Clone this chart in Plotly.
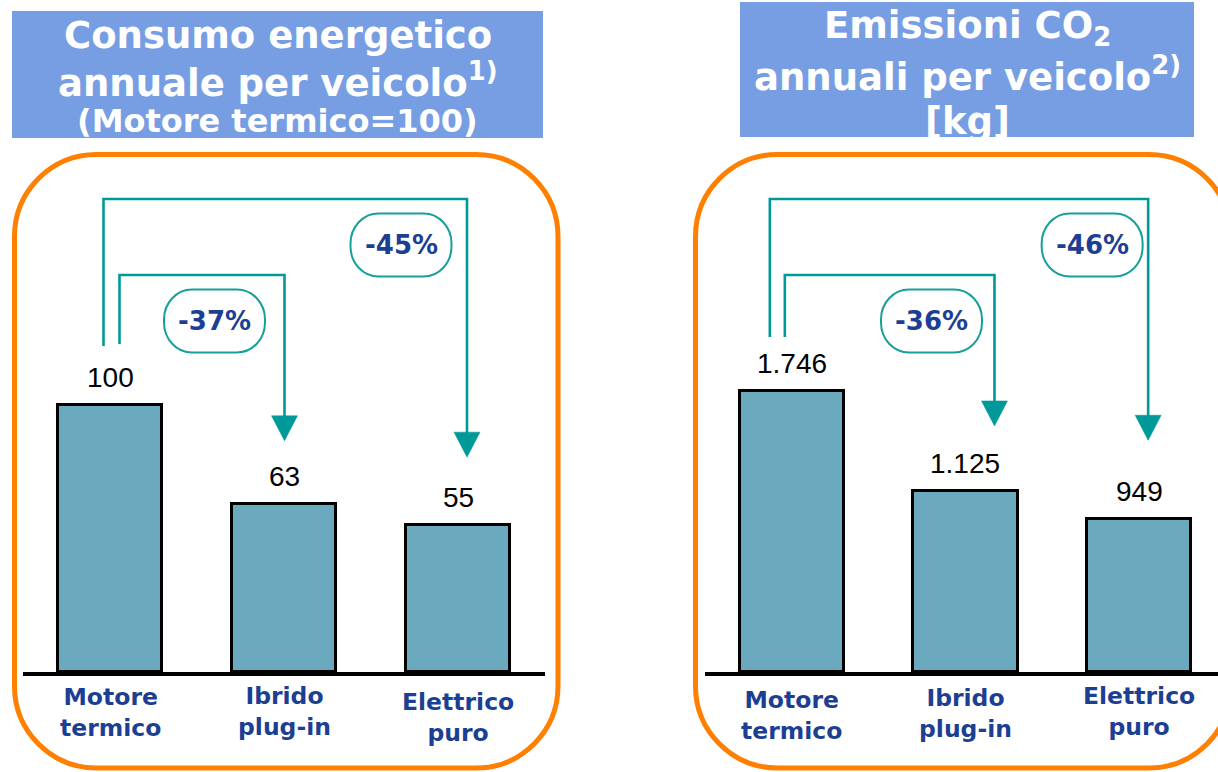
import plotly.graph_objects as go

W, H = 1218, 772

# ---------------- data ----------------
categories = ["Motore<br>termico", "Ibrido<br>plug-in", "Elettrico<br>puro"]
energy_values = [100, 63, 55]          # index, motore termico = 100
co2_values = [1746, 1125, 949]         # kg CO2 per year
energy_changes = ["-37%", "-45%"]      # vs motore termico (ibrido, elettrico)
co2_changes = ["-36%", "-46%"]

energy_title = ["Consumo energetico", "annuale per veicolo<sup>1)</sup>", "(Motore termico=100)"]
co2_title = ["Emissioni CO<sub>2</sub>", "annuali per veicolo<sup>2)</sup>", "[kg]"]

# ---------------- style ----------------
BAR = "#6aa9be"
TEAL = "#009999"
TITLE_BG = "#779ee3"
ORANGE = "#ff7f00"
NAVY = "#1c3f94"
BOLD_FONT = "DejaVu Sans, Verdana, sans-serif"
NUM_FONT = "Liberation Sans, Arial, sans-serif"

BASE_PX, TOP_PX = 672, 150

panels = [
    dict(values=energy_values, changes=energy_changes, title=energy_title,
         xdom=(23, 545), xr=(-0.5, 2.5), bar0_px=267, ax="x", ay="y",
         title_box=(12, 11, 543, 138), title_y=(35, 80, 121), title_sizes=(37, 37, 32),
         frame=(14.5, 154.5, 558, 768),
         # (target, x0 offset, x1 offset, top level, start gap, tip gap, bubble dx)
         brackets=[(1, 9.5, 0.5, 397, 61, 63, 70), (2, -6.5, 9, 473, 59, 68, 66)],
         label_y=(712, 711, 717)),
    dict(values=co2_values, changes=co2_changes, title=co2_title,
         xdom=(705, 1218), xr=(-0.5, 2.454), bar0_px=281, ax="x2", ay="y2",
         title_box=(740, 2, 1194, 137), title_y=(28, 74, 121), title_sizes=(37, 37, 37),
         frame=(695.5, 154.5, 1231, 768),
         brackets=[(1, -7, 29, 397, 54, 65, 63), (2, -22, 9, 473, 54, 79, 56)],
         label_y=(715, 713, 711)),
]


def fmt_it(v):
    return f"{v:,}".replace(",", ".")


def PX(x):
    return x / W


def PY(y):
    return 1 - y / H


def rrect(x0, y0, x1, y1, rx, ry):
    k = 0.5523
    pts = [("M", [(x0 + rx, y0)]), ("L", [(x1 - rx, y0)]),
           ("C", [(x1 - rx + k * rx, y0), (x1, y0 + ry - k * ry), (x1, y0 + ry)]),
           ("L", [(x1, y1 - ry)]),
           ("C", [(x1, y1 - ry + k * ry), (x1 - rx + k * rx, y1), (x1 - rx, y1)]),
           ("L", [(x0 + rx, y1)]),
           ("C", [(x0 + rx - k * rx, y1), (x0, y1 - ry + k * ry), (x0, y1 - ry)]),
           ("L", [(x0, y0 + ry)]),
           ("C", [(x0, y0 + ry - k * ry), (x0 + rx - k * rx, y0), (x0 + rx, y0)])]
    s = ""
    for cmd, ps in pts:
        s += cmd + " " + " ".join(f"{PX(a):.5f},{PY(b):.5f}" for a, b in ps) + " "
    return s + "Z"


fig = go.Figure()
layout_axes = {}

for n, p in enumerate(panels):
    vals = p["values"]
    ytop = vals[0] * (BASE_PX - TOP_PX) / p["bar0_px"]
    d0, d1 = p["xdom"]
    r0, r1 = p["xr"]

    def x_to_px(xv, d0=d0, d1=d1, r0=r0, r1=r1):
        return d0 + (xv - r0) * (d1 - d0) / (r1 - r0)

    def px_to_x(X, d0=d0, d1=d1, r0=r0, r1=r1):
        return r0 + (X - d0) * (r1 - r0) / (d1 - d0)

    def y_to_px(yv, ytop=ytop):
        return BASE_PX - yv * (BASE_PX - TOP_PX) / ytop

    def px_to_y(Y, ytop=ytop):
        return (BASE_PX - Y) * ytop / (BASE_PX - TOP_PX)

    sfx = "" if n == 0 else str(n + 1)
    layout_axes["xaxis" + sfx] = dict(domain=[PX(d0), min(1, PX(d1))], range=list(p["xr"]),
                                      showgrid=False, zeroline=False, showticklabels=False,
                                      showline=True, linecolor="black", linewidth=4,
                                      anchor="y" + sfx, fixedrange=True)
    layout_axes["yaxis" + sfx] = dict(domain=[PY(BASE_PX), PY(TOP_PX)], range=[0, ytop],
                                      visible=False, anchor="x" + sfx, fixedrange=True)

    # frame and title box
    fx0, fy0, fx1, fy1 = p["frame"]
    fig.add_shape(type="path", path=rrect(fx0, fy0, fx1, fy1, 82, 82), xref="paper", yref="paper",
                  line=dict(color=ORANGE, width=5), fillcolor="rgba(0,0,0,0)", layer="below")
    tx0, ty0, tx1, ty1 = p["title_box"]
    fig.add_shape(type="rect", x0=PX(tx0), x1=PX(tx1), y0=PY(ty1), y1=PY(ty0), xref="paper", yref="paper",
                  line=dict(width=0), fillcolor=TITLE_BG, layer="below")
    for line, yy, sz in zip(p["title"], p["title_y"], p["title_sizes"]):
        fig.add_annotation(x=PX((tx0 + tx1) / 2), y=PY(yy), xref="paper", yref="paper",
                           text=f"<b>{line}</b>", showarrow=False, xanchor="center", yanchor="middle",
                           font=dict(family=BOLD_FONT, size=sz, color="white"))

    # bars
    fig.add_trace(go.Bar(x=[0, 1, 2], y=vals, width=0.6, xaxis="x" + sfx, yaxis="y" + sfx,
                         marker=dict(color=BAR, line=dict(color="black", width=3)),
                         showlegend=False, hoverinfo="skip"))
    for i, v in enumerate(vals):
        fig.add_annotation(x=i, y=v, xref="x" + sfx, yref="y" + sfx, text=fmt_it(v), showarrow=False,
                           yanchor="bottom", yshift=10,
                           font=dict(family=NUM_FONT, size=28, color="black"))
    # category labels
    for i, (cat, ly) in enumerate(zip(categories, p["label_y"])):
        txt = "<br>".join(f"<b>{t}</b>" for t in cat.split("<br>"))
        fig.add_annotation(x=i, y=PY(ly), xref="x" + sfx, yref="paper", text=txt, showarrow=False,
                           xanchor="center", yanchor="middle",
                           font=dict(family=BOLD_FONT, size=23.5, color=NAVY))

    # brackets with arrows and change bubbles
    for (t, dx0, dx1, top, sgap, tgap, bdx), change in zip(p["brackets"], p["changes"]):
        X0 = x_to_px(0) + dx0
        X1 = x_to_px(t) + dx1
        Ys = y_to_px(vals[0]) - sgap
        Yt = BASE_PX - top
        Ytip = y_to_px(vals[t]) - tgap
        Yhead = Ytip - 25
        fig.add_trace(go.Scatter(x=[px_to_x(X0), px_to_x(X0), px_to_x(X1), px_to_x(X1)],
                                 y=[px_to_y(Ys), px_to_y(Yt), px_to_y(Yt), px_to_y(Yhead + 2)],
                                 mode="lines", line=dict(color=TEAL, width=2.6),
                                 xaxis="x" + sfx, yaxis="y" + sfx, showlegend=False, hoverinfo="skip"))
        fig.add_trace(go.Scatter(x=[px_to_x(X1 - 13), px_to_x(X1 + 13), px_to_x(X1), px_to_x(X1 - 13)],
                                 y=[px_to_y(Yhead), px_to_y(Yhead), px_to_y(Ytip), px_to_y(Yhead)],
                                 mode="lines", fill="toself", fillcolor=TEAL, line=dict(color=TEAL, width=0.5),
                                 xaxis="x" + sfx, yaxis="y" + sfx, showlegend=False, hoverinfo="skip"))
        cx, cy = X1 - bdx, Yt + 46
        fig.add_shape(type="path", path=rrect(cx - 50.5, cy - 31.5, cx + 50.5, cy + 31.5, 28, 30),
                      xref="paper", yref="paper", line=dict(color="#17a09a", width=2), fillcolor="white")
        fig.add_annotation(x=PX(cx), y=PY(cy), xref="paper", yref="paper", text=f"<b>{change}</b>",
                           showarrow=False, xanchor="center", yanchor="middle",
                           font=dict(family=BOLD_FONT, size=26, color=NAVY))

fig.update_layout(width=W, height=H, margin=dict(l=0, r=0, t=0, b=0),
                  paper_bgcolor="white", plot_bgcolor="rgba(0,0,0,0)", showlegend=False,
                  bargap=0, **layout_axes)

fig.write_html("out.html", config={"displayModeBar": False})
